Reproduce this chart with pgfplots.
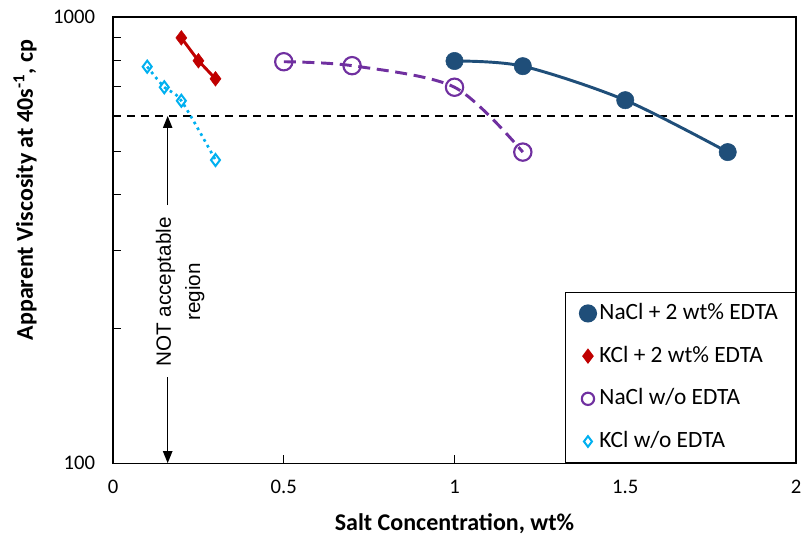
\documentclass[border=0pt]{standalone}
\usepackage{pgfplots}
\pgfplotsset{compat=1.18}
\usepackage{fontspec}
\setmainfont{Carlito}
\newfontfamily\arialfont{Liberation Sans}
\usetikzlibrary{arrows.meta}

\definecolor{navyc}{HTML}{1F4E79}
\definecolor{redc}{HTML}{C00000}
\definecolor{purplec}{HTML}{7030A0}
\definecolor{cyanc}{HTML}{00B0F0}

\begin{document}
\begin{tikzpicture}
\begin{axis}[
  width=512pt, height=334.5pt, scale only axis,
  ymode=log,
  xmin=0, xmax=2, ymin=100, ymax=1000,
  xtick={0,0.5,1,1.5,2}, xticklabels={0,0.5,1,1.5,2},
  ytick={100,1000}, yticklabels={100,1000},
  minor ytick={200,300,400,500,600,700,800,900},
  tick align=inside, xtick pos=bottom, ytick pos=left,
  major tick length=6pt, minor tick length=6pt,
  tick style={black, line width=0.8pt},
  axis line style={line width=1pt},
  /pgf/number format/assume math mode=true,
  ticklabel style={font=\fontsize{15.5}{18}\selectfont},
  xticklabel style={yshift=-9pt},
  yticklabel style={xshift=-10pt},
  xlabel={\textbf{Salt Concentration, wt\%}},
  ylabel={\textbf{Apparent Viscosity at 40s\textsuperscript{-1}, cp}},
  label style={font=\fontsize{18}{21}\selectfont},
  xlabel style={at={(axis description cs:0.5,0)}, anchor=center, yshift=-45pt},
  ylabel style={at={(axis description cs:-0.105,0.612)}, anchor=south},
  legend style={at={(rel axis cs:1,0)}, anchor=south east, draw=black,
    line width=1pt, font=\fontsize{17.5}{21}\selectfont, row sep=16pt,
    inner xsep=10.8pt, inner ysep=7.75pt,
    nodes={inner xsep=2.3pt, inner ysep=0pt, text height=12.5pt, text depth=3.5pt}},
  legend cell align=left,
  legend image code/.code={\draw[mark repeat=2,mark phase=2,#1]
    plot coordinates {(0cm,0cm) (0.2cm,0cm) (0.4cm,0cm)};},
]
% acceptance limit
\addplot[black, line width=1.2pt, dash pattern=on 6pt off 4.5pt, forget plot]
  coordinates {(0,600) (2,600)};

% trend lines
\addplot[navyc, line width=2.2pt, smooth, forget plot]
  coordinates {(1.0,797) (1.2,776) (1.5,651) (1.8,498)};
\addplot[redc, line width=2.2pt, forget plot]
  coordinates {(0.2,898) (0.25,798) (0.3,727)};
\addplot[purplec, line width=2.2pt, smooth, dash pattern=on 9pt off 5pt, forget plot]
  coordinates {(0.5,794) (0.7,778) (1.0,696) (1.2,498)};
\addplot[cyanc, line width=2pt, smooth, dash pattern=on 2pt off 3pt, forget plot]
  coordinates {(0.1,774) (0.15,696) (0.2,649) (0.3,478)};

% data points
\addplot[only marks, mark=*, mark size=6.5pt, navyc, mark options={fill=navyc},
  legend image post style={mark size=6.3pt}]
  coordinates {(1.0,797) (1.2,776) (1.5,651) (1.8,498)};
\addlegendentry{NaCl + 2 wt\% EDTA}
\addplot[only marks, mark=diamond*, mark size=5.5pt, redc, mark options={fill=redc},
  legend image post style={mark size=5pt}]
  coordinates {(0.2,898) (0.25,798) (0.3,727)};
\addlegendentry{KCl + 2 wt\% EDTA}
\addplot[only marks, mark=o, mark size=6.5pt, purplec, mark options={line width=1.6pt},
  legend image post style={mark size=4.6pt}]
  coordinates {(0.5,794) (0.7,778) (1.0,696) (1.2,498)};
\addlegendentry{NaCl w/o EDTA}
\addplot[only marks, mark=diamond, mark size=4.5pt, cyanc, mark options={line width=1.5pt},
  legend image post style={mark size=4pt}]
  coordinates {(0.1,774) (0.15,696) (0.2,649) (0.3,478)};
\addlegendentry{KCl w/o EDTA}

% not acceptable region annotation
\draw[-{Triangle[length=9pt,width=7pt]}, line width=1pt] (axis cs:0.16,379) -- (axis cs:0.16,600);
\draw[-{Triangle[length=9pt,width=7pt]}, line width=1pt] (axis cs:0.16,156) -- (axis cs:0.16,100);
\node[rotate=90, align=center, font=\arialfont\fontsize{15.5}{22}\selectfont]
  at (axis cs:0.1965,242) {NOT acceptable\\region};

\coordinate (ll) at (rel axis cs:0,0);
\coordinate (ur) at (rel axis cs:1,1);
\end{axis}
\pgfresetboundingbox
\path ([xshift=-84.75pt,yshift=-62.25pt]ll) rectangle ([xshift=5.25pt,yshift=12.75pt]ur);
\end{tikzpicture}
\end{document}
